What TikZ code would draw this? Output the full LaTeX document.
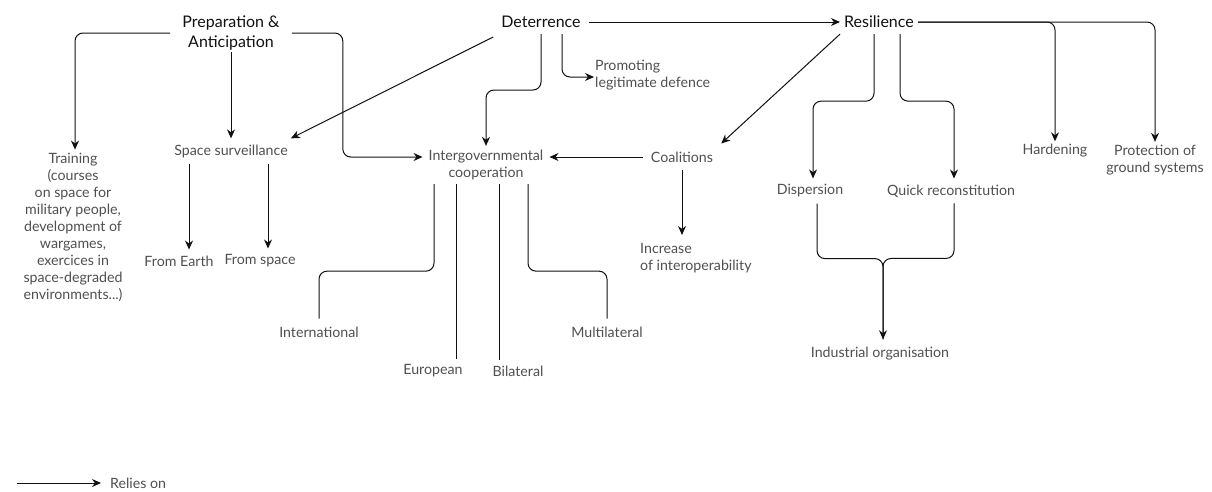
\documentclass[tikz,border=0pt]{standalone}
\usepackage{fontspec}
\setmainfont{Lato}
\usetikzlibrary{arrows.meta,calc}
\definecolor{ink}{HTML}{111111}
\definecolor{soft}{HTML}{505050}
\begin{document}
\begin{tikzpicture}[x=1pt,y=-1pt,
  main/.style={text=ink,font=\fontsize{16}{20}\selectfont,align=center,inner sep=2pt},
  sub/.style={text=soft,font=\fontsize{14.2}{17}\selectfont,align=center,inner sep=3pt},
  link/.style={draw=ink,line width=1pt,rounded corners=8pt},
  arr/.style={link,-{Stealth[length=9pt,width=8pt]}}]
\useasboundingbox[fill=white] (0,0) rectangle (1212,491);

% top level themes
\node[main,inner xsep=12pt] (prep) at (231,33) {Preparation \&\\Anticipation};
\node[main,inner xsep=8pt,inner ysep=6pt] (det) at (541,22) {Deterrence};
\node[main,inner xsep=4pt,inner ysep=6pt] (res) at (879,22) {Resilience};

% second level
\node[sub] (train) at (73,227) {Training\\(courses\\on space for\\military people,\\development of\\wargames,\\exercices in\\space-degraded\\environments...)};
\node[sub,inner ysep=6pt] (ss) at (231,151) {Space surveillance};
\node[sub,inner xsep=6pt,inner ysep=4pt] (igc) at (486,165) {Intergovernmental\\cooperation};
\node[sub,anchor=west,inner sep=1pt,align=left] (prom) at (594,75) {Promoting\\legitimate defence};
\node[sub,inner xsep=8pt,inner ysep=8pt] (coal) at (682,157) {Coalitions};
\node[sub,anchor=west,inner ysep=8pt,align=left] (inc) at (637,258) {Increase\\of interoperability};
\node[sub,inner ysep=6pt] (disp) at (810,191) {Dispersion};
\node[sub,inner ysep=6pt] (quick) at (951,191) {Quick reconstitution};
\node[sub] (hard) at (1055,151) {Hardening};
\node[sub] (prot) at (1155,160) {Protection of\\ground systems};

% third level
\node[sub,inner ysep=6pt] (fe) at (179,261) {From Earth};
\node[sub,inner ysep=6pt] (fs) at (260,261) {From space};
\node[sub,inner ysep=8pt] (intl) at (319,332) {International};
\node[sub,inner ysep=6pt] (eu) at (433,371) {European};
\node[sub,inner ysep=6pt] (bil) at (518,371) {Bilateral};
\node[sub,inner ysep=8pt] (multi) at (607,332) {Multilateral};
\node[sub,inner ysep=8pt] (ind) at (880,354) {Industrial organisation};

% legend
\coordinate (lg) at (17,483);
\node[sub,anchor=west,inner xsep=9pt] (relies) at (101,483) {Relies on};

% preparation & anticipation
\draw[arr] (prep.west) -| ([xshift=2pt]train.north);
\draw[arr] (prep.south) -- (ss.north);
\draw[arr] (prep.east) -- ++(51,0) |- (coal.west -| igc.west);

% deterrence
\draw[arr] ([yshift=-3pt]det.south west) -- (ss.north east);
\draw[arr] (det.south) -- ++(0,56) -| (igc.north);
\draw[arr] ([xshift=21pt]det.south) |- ([yshift=-2pt]prom.west);
\draw[arr] (det.east) -- (res.west);

% resilience
\draw[arr] (res.south west) -- (coal.north east);
\draw[arr] ([xshift=-5pt]res.south) -- ++(0,67) -| ([xshift=3pt]disp.north);
\draw[arr] ([xshift=21pt]res.south) -- ++(0,67) -| ([xshift=3pt]quick.north);
\draw[arr] (res.east) -| (hard.north);
\draw[arr] (res.east) -| (prot.north);

% coalitions
\draw[arr] (coal.west) -- (coal.west -| igc.east);
\draw[arr] (coal.south) -- (coal.south |- inc.north);

% space surveillance
\draw[arr] ([xshift=-42pt]ss.south) -- ([xshift=-42pt]ss.south |- fe.north);
\draw[arr] ([xshift=37pt]ss.south) -- ([xshift=37pt]ss.south |- fs.north);

% intergovernmental cooperation
\draw[link] ([xshift=-52pt]igc.south) -- ++(0,87) -| (intl.north);
\draw[link] ([xshift=-30pt]igc.south) -- ([xshift=-30pt]igc.south |- eu.north);
\draw[link] ([xshift=13pt]igc.south) -- ([xshift=13pt]igc.south |- bil.north);
\draw[link] ([xshift=42pt]igc.south) -- ++(0,87) -| (multi.north);

% industrial organisation
\draw[arr] ([xshift=7pt]disp.south) -- ++(0,55) -| ([xshift=3pt]ind.north);
\draw[link] ([xshift=3pt]quick.south) -- ++(0,55) -| ([xshift=3pt]ind.north);

% legend
\draw[arr] (lg) -- (relies.west);
\end{tikzpicture}
\end{document}
